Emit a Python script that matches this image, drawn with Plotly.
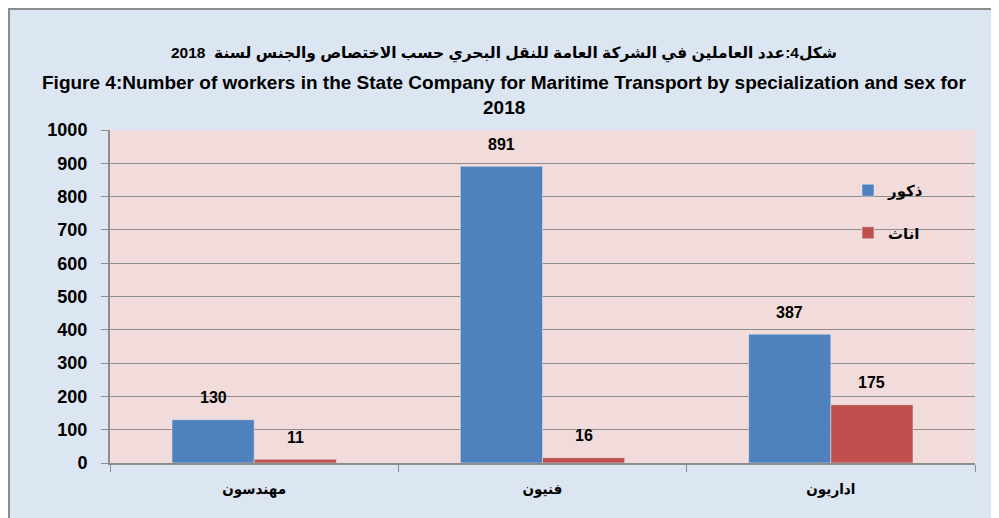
import plotly.graph_objects as go

categories = ["مهندسون", "فنيون", "اداريون"]
males = [130, 891, 387]
females = [11, 16, 175]
series_names = ["ذكور", "اناث"]
y_ticks = [0, 100, 200, 300, 400, 500, 600, 700, 800, 900, 1000]
title_ar = "شكل4:عدد العاملين في الشركة العامة للنقل البحري حسب الاختصاص والجنس لسنة  2018"
title_en1 = "Figure 4:Number of workers in the State Company for Maritime Transport by specialization and sex for"
title_en2 = "2018"

FONT = "Liberation Sans, DejaVu Sans, Arial, sans-serif"
AR_FONT = "DejaVu Sans Condensed, DejaVu Sans, sans-serif"
BLUE = "#4F81BD"
RED = "#C0504D"

OFF = 8  # page body margin
W, H = 991, 510
L, T = 110 - OFF, 130 - OFF
R = W - (975 - OFF)
B = H - (463 - OFF)
pw, ph = W - L - R, H - T - B

def px_x(p):  # window pixel -> paper
    return (p - OFF - L) / pw

def px_y(p):
    return (H - B - (p - OFF)) / ph

fig = go.Figure()
fig.add_trace(go.Bar(x=categories, y=males, name=series_names[0], marker_color=BLUE,
                     legendgroup="m"))
fig.add_trace(go.Bar(x=categories, y=females, name=series_names[1], marker_color=RED,
                     legendgroup="f"))

annotations = []
for vals, shift in ((males, -41), (females, 41)):
    for c, v in zip(categories, vals):
        annotations.append(dict(x=c, y=v, xref="x", yref="y", text=str(v), showarrow=False,
                                xshift=shift, yshift=22, yanchor="middle",
                                font=dict(family=FONT, size=16, color="black", weight="bold")))

for txt, yp, sz in ((title_ar, 53, 15.5), (title_en1, 83, 19), (title_en2, 108, 19)):
    annotations.append(dict(x=px_x(504), y=px_y(yp), xref="paper", yref="paper", text=txt,
                            showarrow=False, xanchor="center", yanchor="middle",
                            font=dict(family=FONT, size=sz, color="black", weight="bold")))

shapes = [
    dict(type="rect", xref="paper", yref="paper", x0=px_x(9), x1=px_x(1020),
         y0=px_y(540), y1=px_y(9), fillcolor="#DCE6F2",
         line=dict(color="#8C8C8C", width=2), layer="below"),
    dict(type="rect", xref="paper", yref="paper", x0=0, x1=1, y0=0, y1=1,
         fillcolor="#F2DCDB", line=dict(width=0), layer="below"),
]

fig.update_layout(
    width=W, height=H,
    margin=dict(l=L, r=R, t=T, b=B, pad=0),
    paper_bgcolor="white",
    plot_bgcolor="rgba(0,0,0,0)",
    barmode="group", bargap=0.43, bargroupgap=0,
    font=dict(family=FONT, size=16, color="black"),
    showlegend=True,
    legend=dict(x=px_x(848), y=px_y(174), xanchor="left", yanchor="top",
                bgcolor="rgba(0,0,0,0)", tracegroupgap=20,
                font=dict(family=FONT, size=15, color="black", weight="bold")),
    annotations=annotations,
    shapes=shapes,
)
fig.update_yaxes(range=[0, 1000], tickvals=y_ticks, showgrid=True, gridcolor="#8C8C8C",
                 gridwidth=1, showline=True, linecolor="#8C8C8C", linewidth=2,
                 ticks="outside", ticklen=7, tickcolor="#8C8C8C", zeroline=False,
                 ticklabelstandoff=10,
                 tickfont=dict(family=FONT, size=18, color="black", weight="bold"))
fig.update_xaxes(showline=True, linecolor="#8C8C8C", linewidth=2, ticks="outside",
                 tickson="boundaries", ticklen=7, tickcolor="#8C8C8C", showgrid=False,
                 ticklabelstandoff=11,
                 tickfont=dict(family=AR_FONT, size=15, color="black", weight="bold"))

fig.write_html("out.html")
